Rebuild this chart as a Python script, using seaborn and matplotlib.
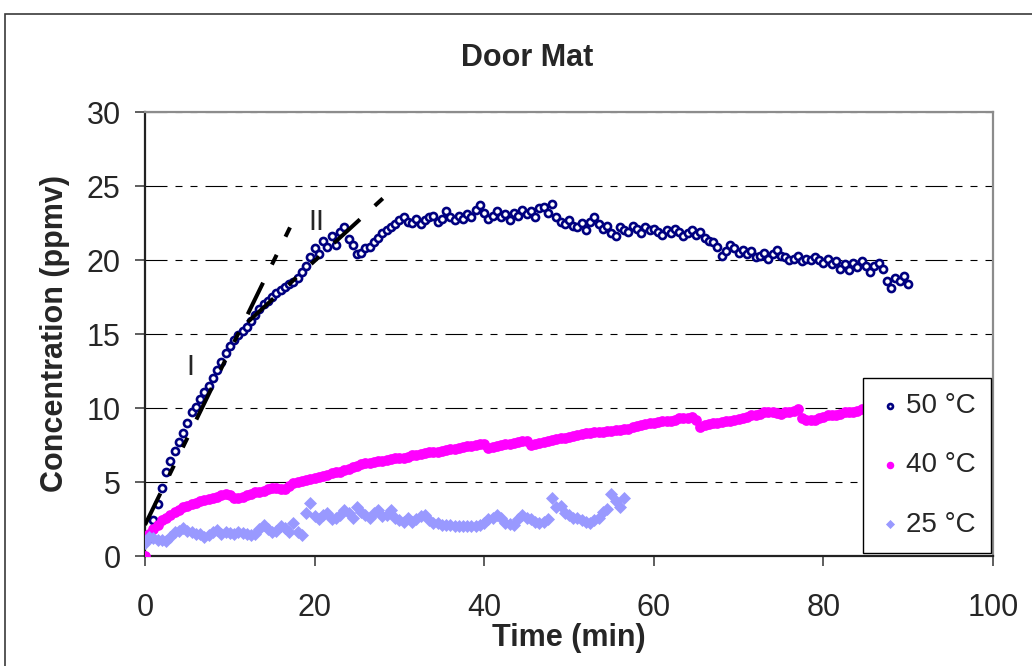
import numpy as np
import pandas as pd
import matplotlib
matplotlib.use("Agg")
import matplotlib.pyplot as plt
from matplotlib.patches import Rectangle
import seaborn as sns

# Sampling interval of the chamber readings (min)
STEP = 0.5

# Emission concentration readings (ppmv), one value every STEP minutes
conc_50C = [
    0.0, 1.2, 2.4, 3.5, 4.6, 5.7, 6.4, 7.1, 7.7, 8.3,
    9.0, 9.7, 10.1, 10.6, 11.1, 11.5, 12.0, 12.6, 13.1, 13.7,
    14.2, 14.6, 14.9, 15.2, 15.5, 15.9, 16.3, 16.7, 17.0, 17.2,
    17.5, 17.8, 18.0, 18.2, 18.4, 18.5, 18.8, 19.2, 19.6, 20.2,
    20.8, 20.4, 21.3, 20.9, 21.6, 21.0, 21.9, 22.2, 21.4, 21.0,
    20.4, 20.5, 20.8, 20.9, 21.2, 21.5, 21.8, 22.0, 22.2, 22.4,
    22.7, 22.9, 22.6, 22.5, 22.8, 22.4, 22.7, 22.9, 23.0, 22.6,
    22.8, 23.3, 22.9, 22.7, 23.0, 22.8, 23.1, 22.9, 23.4, 23.7,
    23.2, 22.8, 23.0, 23.3, 22.9, 23.1, 22.7, 23.2, 23.0, 23.4,
    23.1, 23.3, 22.9, 23.5, 23.6, 23.2, 23.8, 22.9, 22.6, 22.4,
    22.7, 22.3, 22.2, 22.5, 22.0, 22.6, 22.9, 22.4, 22.1, 22.3,
    21.8, 21.6, 22.2, 22.0, 21.9, 22.3, 22.1, 21.8, 22.2, 22.0,
    22.1, 21.9, 21.7, 22.0, 21.8, 22.1, 21.9, 21.6, 21.8, 22.0,
    21.7, 21.9, 21.5, 21.3, 21.2, 20.9, 20.3, 20.6, 21.0, 20.8,
    20.5, 20.7, 20.4, 20.6, 20.2, 20.3, 20.5, 20.1, 20.4, 20.7,
    20.3, 20.2, 20.0, 20.1, 20.3, 19.9, 20.1, 20.0, 20.2, 20.0,
    19.8, 20.1, 19.7, 19.9, 19.4, 19.7, 19.3, 19.8, 19.5, 19.9,
    19.6, 19.2, 19.6, 19.8, 19.4, 18.6, 18.1, 18.8, 18.6, 18.9,
    18.4,
]

conc_40C = [
    0.0, 1.5, 1.8, 2.1, 2.4, 2.6, 2.8, 3.0, 3.1, 3.3,
    3.4, 3.5, 3.6, 3.7, 3.8, 3.85, 3.9, 4.0, 4.1, 4.2,
    4.1, 3.95, 3.9, 4.0, 4.1, 4.2, 4.3, 4.35, 4.4, 4.5,
    4.6, 4.6, 4.5, 4.5, 4.7, 4.9, 5.0, 5.1, 5.15, 5.2,
    5.3, 5.35, 5.4, 5.5, 5.6, 5.65, 5.7, 5.8, 5.9, 6.0,
    6.1, 6.2, 6.3, 6.3, 6.35, 6.4, 6.45, 6.5, 6.55, 6.6,
    6.6, 6.65, 6.7, 6.8, 6.85, 6.9, 6.95, 7.0, 7.0, 7.05,
    7.1, 7.15, 7.2, 7.25, 7.3, 7.35, 7.4, 7.45, 7.5, 7.6,
    7.55, 7.3, 7.35, 7.45, 7.5, 7.55, 7.6, 7.65, 7.7, 7.8,
    7.75, 7.5, 7.6, 7.65, 7.7, 7.8, 7.85, 7.9, 7.95, 8.0,
    8.05, 8.1, 8.2, 8.25, 8.3, 8.3, 8.35, 8.4, 8.4, 8.45,
    8.45, 8.5, 8.5, 8.55, 8.6, 8.7, 8.8, 8.85, 8.9, 9.0,
    9.0, 9.05, 9.1, 9.1, 9.15, 9.2, 9.3, 9.3, 9.35, 9.4,
    9.2, 8.7, 8.85, 8.95, 9.0, 9.0, 9.05, 9.1, 9.1, 9.2,
    9.25, 9.3, 9.4, 9.5, 9.55, 9.6, 9.7, 9.75, 9.7, 9.65,
    9.6, 9.7, 9.75, 9.8, 9.9, 9.3, 9.2, 9.2, 9.2, 9.3,
    9.4, 9.5, 9.5, 9.55, 9.6, 9.7, 9.7, 9.75, 9.8, 9.9,
    9.9, 9.95, 10.0, 10.0, 10.05, 10.1, 10.1, 10.15, 10.2, 10.2,
    10.25,
]

conc_25C = [
    0.9, 1.3, 1.2, 1.1, 1.1, 1.0, 1.3, 1.6, 1.7, 1.9,
    1.7, 1.6, 1.5, 1.5, 1.3, 1.4, 1.6, 1.75, 1.5, 1.6,
    1.55, 1.5, 1.6, 1.55, 1.5, 1.4, 1.5, 1.8, 2.1, 1.8,
    1.6, 1.7, 2.0, 1.9, 1.6, 2.2, 1.6, 1.4, 2.9, 3.6,
    2.7, 2.5, 2.8, 2.9, 2.5, 2.6, 2.8, 3.1, 2.9, 2.6,
    3.3, 3.0, 2.8, 2.6, 2.9, 3.1, 2.7, 2.8, 3.1, 2.6,
    2.4, 2.3, 2.6, 2.3, 2.5, 2.7, 2.8, 2.4, 2.2, 2.2,
    2.1, 2.1, 2.1, 2.05, 2.0, 2.0, 2.0, 2.0, 2.05, 2.1,
    2.2, 2.5, 2.6, 2.8, 2.6, 2.2, 2.15, 2.1, 2.5, 2.8,
    2.6, 2.5, 2.3, 2.2, 2.3, 2.5, 3.9, 3.3, 3.4, 2.9,
    2.8, 2.6, 2.6, 2.4, 2.3, 2.2, 2.4, 2.6, 3.0, 3.2,
    4.2, 3.7, 3.3, 3.9,
]

series_labels = ["50 \u00b0C", "40 \u00b0C", "25 \u00b0C"]

# Linear emission phases drawn as dashed guides (endpoints in min / ppmv)
phase_I_t = [0.0, 17.1]
phase_I_c = [2.1, 22.2]
phase_II_t = [12.1, 28.5]
phase_II_c = [15.8, 24.4]
phase_names = ["I", "II"]
phase_name_t = [5.4, 20.2]
phase_name_c = [12.8, 22.6]

x_ticks = [0, 20, 40, 60, 80, 100]
y_ticks = [0, 5, 10, 15, 20, 25, 30]


def frame(values):
    return pd.DataFrame({"time": np.arange(len(values)) * STEP, "conc": values})


sns.set_style("white")
plt.rcParams["font.family"] = ["Liberation Sans", "DejaVu Sans"]

W, H = 1032, 666
fig = plt.figure(figsize=(W / 100, H / 100), dpi=100)
ax = fig.add_axes([145 / W, 1 - 556 / H, (993 - 145) / W, (556 - 112) / H])

# Outer chart border
fig.patches.append(Rectangle((5 / W, -0.1), 1.2, 1 - 14 / H + 0.1, fill=False,
                             edgecolor="#3a3a3a", linewidth=1.2,
                             transform=fig.transFigure, zorder=0))

sns.scatterplot(data=frame(conc_50C), x="time", y="conc", ax=ax, marker="o",
                s=26, color="white", edgecolor="#000080", linewidth=1.9,
                label=series_labels[0], zorder=3)
sns.scatterplot(data=frame(conc_40C), x="time", y="conc", ax=ax, marker="o",
                s=60, color="#FF00FF", linewidth=0, label=series_labels[1],
                zorder=4)
sns.scatterplot(data=frame(conc_25C), x="time", y="conc", ax=ax, marker="D",
                s=44, color="#9999FF", linewidth=0, label=series_labels[2],
                zorder=5)

dash_pattern = (0, (8.7, 5.0, 2.7, 5.0, 2.7, 5.0))
for t, c in ((phase_I_t, phase_I_c), (phase_II_t, phase_II_c)):
    sns.lineplot(x=t, y=c, ax=ax, color="black", linewidth=2.9,
                 linestyle=dash_pattern, estimator=None, sort=False,
                 legend=False, zorder=6)
for name, t, c in zip(phase_names, phase_name_t, phase_name_c):
    ax.text(t, c, name, fontsize=21, ha="center", va="center", zorder=7)

ax.set_xlim(0, 100)
ax.set_ylim(0, 30)
ax.set_xticks(x_ticks)
ax.set_yticks(y_ticks)
ax.tick_params(axis="both", direction="out", length=7.5, width=1.1,
               color="#333333", labelsize=22, left=True, bottom=True)
ax.tick_params(axis="x", pad=19)
ax.tick_params(axis="y", pad=10)

ax.yaxis.grid(True, color="black", linewidth=0.8,
              linestyle=(0, (19.8, 7.2, 6.3, 7.2, 6.3, 7.2)))
ax.set_axisbelow(True)

for side in ("left", "bottom"):
    ax.spines[side].set_color("#222222")
    ax.spines[side].set_linewidth(1.6)
for side in ("top", "right"):
    ax.spines[side].set_color("#8c8c8c")
    ax.spines[side].set_linewidth(1.6)

ax.set_xlabel("Time (min)", fontsize=22, fontweight="bold", va="center")
ax.set_ylabel("Concentration (ppmv)", fontsize=22, fontweight="bold", va="center")
ax.xaxis.set_label_coords(0.5, (556 - 638) / 444)
ax.yaxis.set_label_coords((55 - 145) / 848, 0.5)

ax.set_title("Door Mat", fontsize=22, fontweight="bold", x=(527 - 145) / 848,
             y=(556 - 58) / 444, va="center", pad=0)

leg = ax.legend(loc="lower right", bbox_to_anchor=(0.9976, 0.007),
                borderaxespad=0, fontsize=20, frameon=True, fancybox=False,
                edgecolor="black", framealpha=1, borderpad=0.55,
                labelspacing=1.2, handlelength=0.86, handletextpad=0.15,
                markerscale=0.7)
leg.get_frame().set_linewidth(1.0)
leg.set_zorder(10)

fig.savefig("out.png", dpi=100)
